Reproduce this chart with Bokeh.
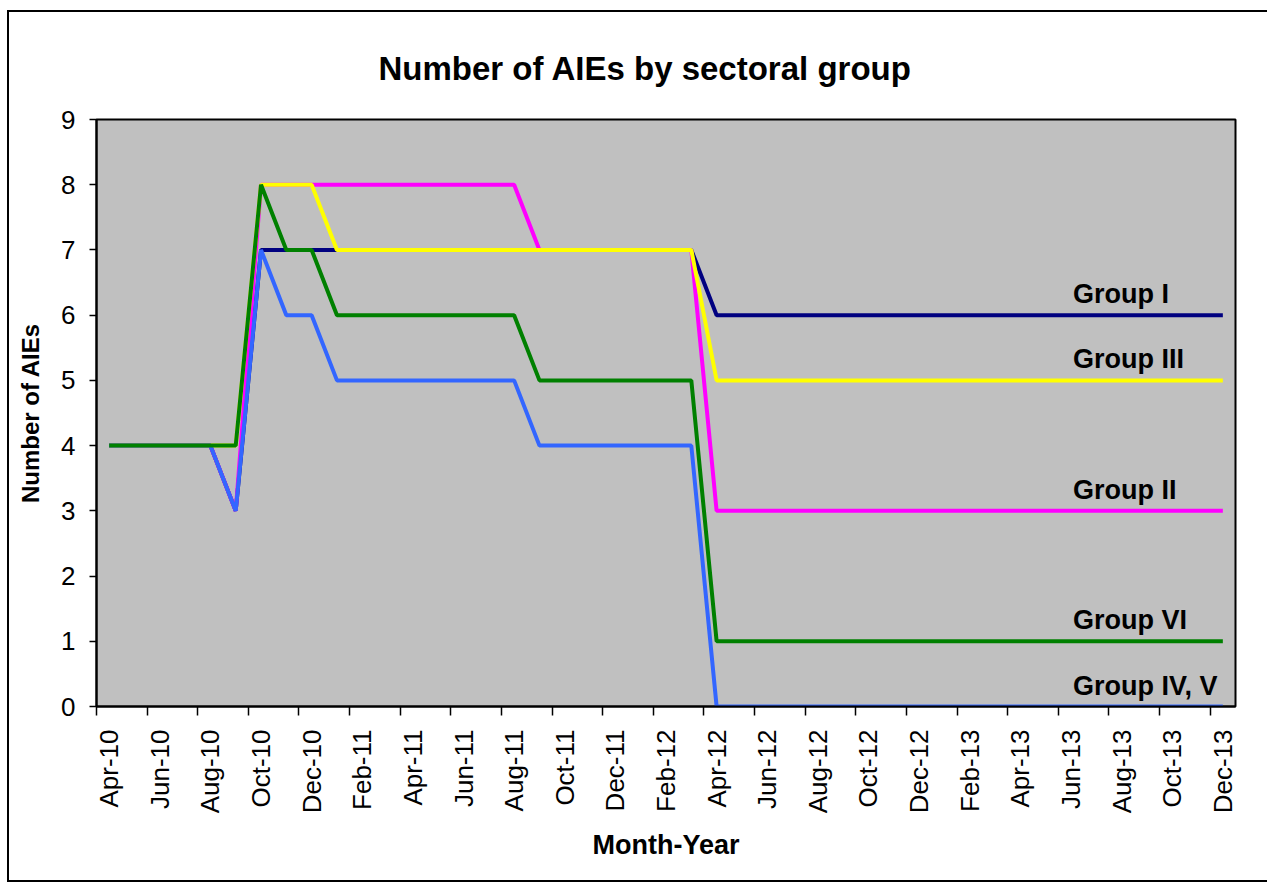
import math
from bokeh.plotting import figure
from bokeh.models import Range1d, FixedTicker, LinearAxis, ColumnDataSource
from bokeh.core.properties import value
from bokeh.embed import file_html
from bokeh.resources import INLINE

# ---- data ----
months = ["Apr-10", "May-10", "Jun-10", "Jul-10", "Aug-10", "Sep-10", "Oct-10", "Nov-10", "Dec-10",
          "Jan-11", "Feb-11", "Mar-11", "Apr-11", "May-11", "Jun-11", "Jul-11", "Aug-11", "Sep-11",
          "Oct-11", "Nov-11", "Dec-11", "Jan-12", "Feb-12", "Mar-12", "Apr-12", "May-12", "Jun-12",
          "Jul-12", "Aug-12", "Sep-12", "Oct-12", "Nov-12", "Dec-12", "Jan-13", "Feb-13", "Mar-13",
          "Apr-13", "May-13", "Jun-13", "Jul-13", "Aug-13", "Sep-13", "Oct-13", "Nov-13", "Dec-13"]

group_i   = [4, 4, 4, 4, 4, 3, 7, 7, 7, 7, 7, 7, 7, 7, 7, 7, 7, 7, 7, 7, 7, 7, 7, 7,
             6, 6, 6, 6, 6, 6, 6, 6, 6, 6, 6, 6, 6, 6, 6, 6, 6, 6, 6, 6, 6]
group_ii  = [4, 4, 4, 4, 4, 3, 8, 8, 8, 8, 8, 8, 8, 8, 8, 8, 8, 7, 7, 7, 7, 7, 7, 7,
             3, 3, 3, 3, 3, 3, 3, 3, 3, 3, 3, 3, 3, 3, 3, 3, 3, 3, 3, 3, 3]
group_iii = [4, 4, 4, 4, 4, 4, 8, 8, 8, 7, 7, 7, 7, 7, 7, 7, 7, 7, 7, 7, 7, 7, 7, 7,
             5, 5, 5, 5, 5, 5, 5, 5, 5, 5, 5, 5, 5, 5, 5, 5, 5, 5, 5, 5, 5]
group_iv_v = [4, 4, 4, 4, 4, 3, 7, 6, 6, 5, 5, 5, 5, 5, 5, 5, 5, 4, 4, 4, 4, 4, 4, 4,
              0, 0, 0, 0, 0, 0, 0, 0, 0, 0, 0, 0, 0, 0, 0, 0, 0, 0, 0, 0, 0]
group_vi  = [4, 4, 4, 4, 4, 4, 8, 7, 7, 6, 6, 6, 6, 6, 6, 6, 6, 5, 5, 5, 5, 5, 5, 5,
             1, 1, 1, 1, 1, 1, 1, 1, 1, 1, 1, 1, 1, 1, 1, 1, 1, 1, 1, 1, 1]

series_names = ["Group I", "Group II", "Group III", "Group IV, V", "Group VI"]
series_values = [group_i, group_ii, group_iii, group_iv_v, group_vi]
series_colors = ["#000080", "#FF00FF", "#FFFF00", "#3366FF", "#008000"]

tick_labels = months[::2]
label_month = "Jun-13"

FONT = "Liberation Sans"

x = list(range(len(months)))

p = figure(width=1260, height=872, output_backend="svg", toolbar_location=None,
           x_range=Range1d(-0.5, len(months) - 0.5), y_range=Range1d(0, 9),
           min_border_left=87, min_border_top=107, min_border_right=34, min_border_bottom=178,
           x_axis_location=None, y_axis_location=None)
p.styles = {"border-left": "2px solid #000000", "border-top": "2px solid #000000",
            "border-bottom": "2px solid #000000", "margin-left": "7px", "margin-top": "10px"}

p.background_fill_color = "#C0C0C0"
p.border_fill_color = "white"
p.outline_line_color = "black"
p.outline_line_width = 2
p.xgrid.visible = False
p.ygrid.visible = False

p.title.text = "Number of AIEs by sectoral group"
p.title.text_font = FONT
p.title.text_font_size = "33px"
p.title.text_font_style = "bold"
p.title.text_color = "black"
p.title.align = "left"
p.title.offset = 282
p.title.standoff = 62
p.title.vertical_align = "top"

# y axis
yax = LinearAxis(ticker=FixedTicker(ticks=list(range(0, 10))))
yax.axis_label = "Number of AIEs"
yax.axis_label_text_font = FONT
yax.axis_label_text_font_size = "24px"
yax.axis_label_text_font_style = "bold"
yax.axis_label_text_color = "black"
yax.axis_label_standoff = 14
yax.major_label_text_font = FONT
yax.major_label_text_font_size = "26px"
yax.major_label_text_color = "black"
yax.major_label_standoff = 14
yax.major_tick_out = 7
yax.major_tick_in = 0
yax.minor_tick_out = 0
yax.minor_tick_in = 0
yax.axis_line_color = "black"
yax.axis_line_width = 2
yax.major_tick_line_width = 1.5
p.add_layout(yax, "left")

# x axis: tick marks at month boundaries
xa = LinearAxis(ticker=FixedTicker(ticks=[i - 0.5 for i in x[::2]]))
xa.major_label_overrides = {i - 0.5: "" for i in x[::2]}
xa.major_label_text_font_size = "1px"
xa.major_label_standoff = 0
xa.major_tick_out = 9
xa.major_tick_in = 0
xa.minor_tick_out = 0
xa.minor_tick_in = 0
xa.axis_line_color = "black"
xa.axis_line_width = 2
xa.major_tick_line_width = 1.5
p.add_layout(xa, "below")

# x axis: labels at month centres
xb = LinearAxis(ticker=FixedTicker(ticks=x[::2]))
xb.major_label_overrides = {i: lab for i, lab in zip(x[::2], tick_labels)}
xb.major_label_orientation = math.pi / 2
xb.major_label_text_font = FONT
xb.major_label_text_font_size = "26px"
xb.major_label_text_color = "black"
xb.major_label_standoff = 14
xb.major_tick_out = 0
xb.major_tick_in = 0
xb.minor_tick_out = 0
xb.minor_tick_in = 0
xb.axis_line_color = None
xb.axis_label = "Month-Year"
xb.axis_label_text_font = FONT
xb.axis_label_text_font_size = "27px"
xb.axis_label_text_font_style = "bold"
xb.axis_label_text_color = "black"
xb.axis_label_standoff = 14
p.add_layout(xb, "below")

for name, vals, col in zip(series_names, series_values, series_colors):
    p.line(x, vals, line_color=col, line_width=4)

lab_src = ColumnDataSource(dict(
    lx=[months.index(label_month)] * len(series_names),
    ly=[v[-1] for v in series_values],
    name=series_names,
))
p.text(x="lx", y="ly", text="name", source=lab_src, text_font=value(FONT),
       text_font_size="27px", text_font_style="bold", text_color="black",
       text_align="left", text_baseline="middle", x_offset=2, y_offset=-21)

open("out.html", "w").write(file_html(p, INLINE))
